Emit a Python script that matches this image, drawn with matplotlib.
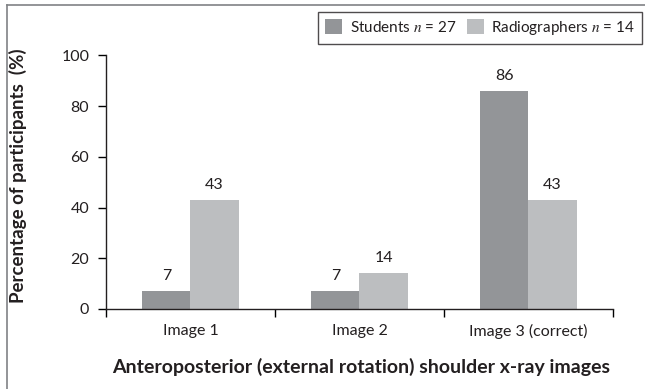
import matplotlib.pyplot as plt
from matplotlib.lines import Line2D
import numpy as np

categories = ['Image 1', 'Image 2', 'Image 3 (correct)']
students = [7, 7, 86]
radiographers = [43, 14, 43]
series_names = ['Students $n$ = 27', 'Radiographers $n$ = 14']
yticks = [0, 20, 40, 60, 80, 100]

plt.rcParams['font.family'] = ['Lato', 'DejaVu Sans']
plt.rcParams['mathtext.fontset'] = 'stix'
txt = '#231f20'

fig = plt.figure(figsize=(6.45, 3.89), dpi=100)
ax = fig.add_axes([0.1643, 0.2057, 0.786, 0.6517])

x = np.arange(len(categories))
w = 0.285
b1 = ax.bar(x - w / 2, students, w, color='#939598', label=series_names[0])
b2 = ax.bar(x + w / 2, radiographers, w, color='#bcbec0', label=series_names[1])

for bars in (b1, b2):
  for r in bars:
    ax.annotate(f'{r.get_height():.0f}', (r.get_x() + r.get_width() / 2, r.get_height()),
                xytext=(0, 6), textcoords='offset points', ha='center', va='bottom',
                fontsize=11.5, color=txt)

ax.set_xlim(-0.5, len(categories) - 0.5)
ax.set_ylim(0, 100)
ax.set_yticks(yticks)
ax.set_xticks(x)
ax.set_xticklabels(categories)
ax.set_xticks(np.arange(len(categories) + 1) - 0.5, minor=True)
ax.tick_params(axis='x', which='major', length=0, pad=11, labelsize=11.5, labelcolor=txt)
ax.tick_params(axis='x', which='minor', length=6, width=1, direction='out')
ax.tick_params(axis='y', length=6, width=1, labelsize=11.5, labelcolor=txt, pad=6)
ax.spines[['right', 'top']].set_visible(False)
for s in ('left', 'bottom'):
  ax.spines[s].set_linewidth(1)
  ax.spines[s].set_color('#231f20')

fig.text(18 / 645, 1 - 176 / 389, 'Percentage of participants  (%)', rotation=90,
         ha='center', va='center', fontsize=13.5, fontweight='bold', color=txt)
fig.text(361 / 645, 1 - 367 / 389, 'Anteroposterior (external rotation) shoulder x-ray images',
         ha='center', va='center', fontsize=14, fontweight='bold', color=txt)

leg = fig.legend(loc='upper right', bbox_to_anchor=(642 / 645, 1 - 12 / 389), ncol=2,
                 fontsize=11, frameon=True, fancybox=False, edgecolor='#231f20',
                 handlelength=1.1, handleheight=1.1, handletextpad=0.5, columnspacing=0.7,
                 borderpad=0.45, borderaxespad=0, labelcolor=txt)
leg.get_frame().set_linewidth(1)

# outer frame lines
fig.add_artist(Line2D([7 / 645, 1], [1 - 5 / 389, 1 - 5 / 389], color='#808285', lw=1.2,
                      transform=fig.transFigure))
fig.add_artist(Line2D([7 / 645, 7 / 645], [0, 1 - 5 / 389], color='#808285', lw=1.2,
                      transform=fig.transFigure))

fig.savefig('out.png', dpi=100)
